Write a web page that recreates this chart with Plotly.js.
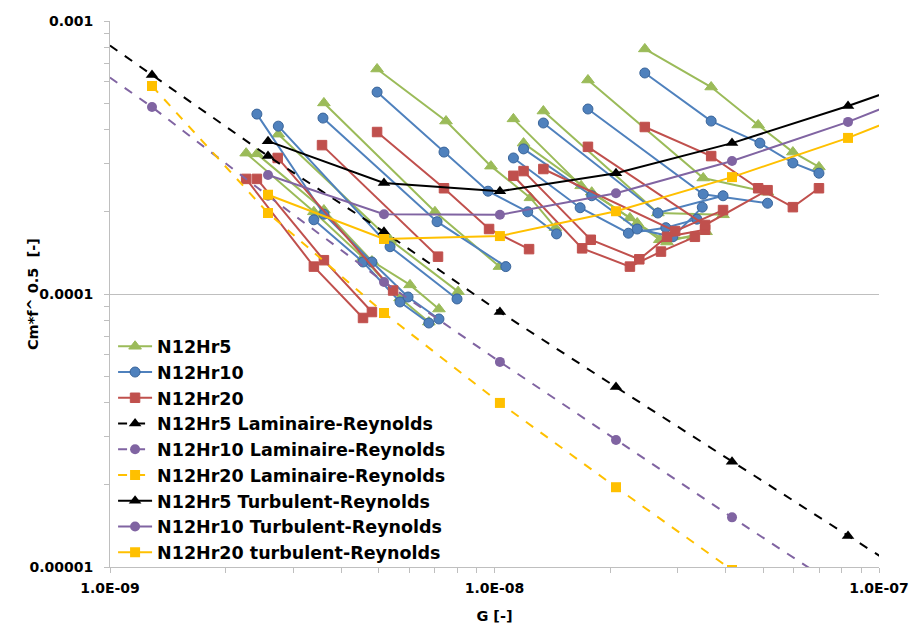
<!DOCTYPE html>
<html><head><meta charset="utf-8">
<script src="https://cdn.plot.ly/plotly-3.0.1.min.js"></script>
<style>html,body{margin:0;padding:0;background:#fff}#chart{width:911px;height:629px}</style>
</head><body><div id="chart"></div>
<script>
// ---- experimental series (runs separated by null) ----
const hr5_G = [2.26e-9,3.39e-9,4.55e-9,5.68e-9,6.75e-9,null,
  2.41e-9,3.60e-9,4.80e-9,6.03e-9,7.17e-9,null,
  2.74e-9,5.35e-9,8.04e-9,null,
  3.60e-9,7.00e-9,1.03e-8,null,
  4.95e-9,7.48e-9,9.79e-9,1.24e-8,1.44e-8,null,
  1.12e-8,1.68e-8,2.25e-8,2.69e-8,3.28e-8,null,
  1.19e-8,1.79e-8,2.35e-8,2.81e-8,3.55e-8,null,
  1.34e-8,2.66e-8,3.93e-8,null,
  1.75e-8,3.49e-8,5.13e-8,null,
  2.46e-8,3.66e-8,4.85e-8,5.97e-8,6.98e-8];
const hr5_Cm = [3.28e-4,2.00e-4,1.36e-4,9.67e-5,7.89e-5,null,
  3.26e-4,2.03e-4,1.32e-4,1.08e-4,8.81e-5,null,
  3.85e-4,1.58e-4,1.02e-4,null,
  5.01e-4,2.00e-4,1.26e-4,null,
  6.67e-4,4.30e-4,2.94e-4,2.25e-4,1.75e-4,null,
  4.38e-4,2.49e-4,1.90e-4,1.58e-4,1.62e-4,null,
  3.57e-4,2.36e-4,1.82e-4,1.55e-4,1.69e-4,null,
  4.68e-4,1.98e-4,1.95e-4,null,
  6.08e-4,2.66e-4,2.36e-4,null,
  7.90e-4,5.73e-4,4.16e-4,3.31e-4,2.92e-4];

const hr10_G = [3.39e-9,4.55e-9,5.68e-9,6.75e-9,null,
  2.41e-9,3.60e-9,4.80e-9,5.96e-9,7.17e-9,null,
  2.74e-9,5.35e-9,7.99e-9,null,
  3.58e-9,7.09e-9,1.07e-8,null,
  4.95e-9,7.39e-9,9.62e-9,1.22e-8,1.45e-8,null,
  1.12e-8,1.67e-8,2.23e-8,2.79e-8,3.36e-8,null,
  1.19e-8,1.79e-8,2.35e-8,2.91e-8,3.47e-8,null,
  1.34e-8,2.66e-8,3.93e-8,null,
  1.75e-8,3.49e-8,5.13e-8,null,
  2.46e-8,3.66e-8,4.90e-8,5.97e-8,6.98e-8];
const hr10_Cm = [1.87e-4,1.31e-4,9.35e-5,7.83e-5,null,
  4.56e-4,1.96e-4,1.31e-4,9.75e-5,8.10e-5,null,
  4.12e-4,1.49e-4,9.59e-5,null,
  4.41e-4,1.84e-4,1.26e-4,null,
  5.49e-4,3.31e-4,2.38e-4,2.00e-4,1.66e-4,null,
  3.15e-4,2.07e-4,1.67e-4,1.75e-4,1.88e-4,null,
  3.40e-4,2.29e-4,1.73e-4,1.62e-4,2.08e-4,null,
  4.23e-4,1.98e-4,2.29e-4,null,
  4.76e-4,2.32e-4,2.15e-4,null,
  6.45e-4,4.30e-4,3.57e-4,3.02e-4,2.77e-4];

const hr20_G = [2.26e-9,3.39e-9,4.55e-9,null,
  2.41e-9,3.60e-9,4.80e-9,null,
  2.73e-9,5.45e-9,null,
  3.56e-9,7.13e-9,null,
  4.95e-9,7.39e-9,9.68e-9,1.23e-8,null,
  1.12e-8,1.69e-8,2.25e-8,2.71e-8,3.32e-8,null,
  1.19e-8,1.78e-8,2.38e-8,2.81e-8,3.53e-8,null,
  1.34e-8,2.95e-8,3.93e-8,null,
  1.75e-8,3.53e-8,5.13e-8,null,
  2.46e-8,3.66e-8,4.85e-8,5.97e-8,6.98e-8];
const hr20_Cm = [2.64e-4,1.26e-4,8.17e-5,null,
  2.64e-4,1.33e-4,8.59e-5,null,
  3.15e-4,1.03e-4,null,
  3.51e-4,1.37e-4,null,
  3.92e-4,2.44e-4,1.73e-4,1.46e-4,null,
  2.71e-4,1.47e-4,1.26e-4,1.43e-4,1.62e-4,null,
  2.82e-4,1.58e-4,1.34e-4,1.62e-4,1.72e-4,null,
  2.87e-4,1.70e-4,2.03e-4,null,
  3.46e-4,1.79e-4,2.40e-4,null,
  4.09e-4,3.20e-4,2.44e-4,2.08e-4,2.44e-4];

// ---- correlations ----
const lamHr5_G  = [6.43e-10,1.286e-9,2.576e-9,5.159e-9,1.033e-8,2.070e-8,4.147e-8,8.307e-8,1.664e-7];
const lamHr5_Cm = [1.256e-3,6.34e-4,3.20e-4,1.69e-4,8.59e-5,4.56e-5,2.43e-5,1.30e-5,6.96e-6];
const lamHr10_G  = [6.43e-10,1.286e-9,2.576e-9,5.159e-9,1.033e-8,2.070e-8,4.147e-8,8.307e-8];
const lamHr10_Cm = [9.6e-4,4.84e-4,2.29e-4,1.107e-4,5.64e-5,2.92e-5,1.52e-5,8.0e-6];
const lamHr20_G  = [1.286e-9,2.576e-9,5.159e-9,1.033e-8,2.070e-8,4.147e-8];
const lamHr20_Cm = [5.78e-4,1.98e-4,8.52e-5,3.99e-5,1.96e-5,9.75e-6];

const turbHr5_G  = [2.576e-9,5.159e-9,1.033e-8,2.070e-8,4.147e-8,8.307e-8,1.664e-7];
const turbHr5_Cm = [3.63e-4,2.55e-4,2.38e-4,2.77e-4,3.57e-4,4.88e-4,6.90e-4];
const turbHr10_G  = [2.576e-9,5.159e-9,1.033e-8,2.070e-8,4.147e-8,8.307e-8,1.664e-7];
const turbHr10_Cm = [2.73e-4,1.96e-4,1.95e-4,2.34e-4,3.07e-4,4.27e-4,6.29e-4];
const turbHr20_G  = [2.576e-9,5.159e-9,1.033e-8,2.070e-8,4.147e-8,8.307e-8,1.664e-7];
const turbHr20_Cm = [2.31e-4,1.59e-4,1.63e-4,2.01e-4,2.68e-4,3.73e-4,5.50e-4];

const names = ['N12Hr5','N12Hr10','N12Hr20',
  'N12Hr5 Laminaire-Reynolds','N12Hr10 Laminaire-Reynolds','N12Hr20 Laminaire-Reynolds',
  'N12Hr5 Turbulent-Reynolds','N12Hr10 Turbulent-Reynolds','N12Hr20 turbulent-Reynolds'];
const xTickVals = [1e-9,1e-8,1e-7];
const xTickText = ['1.0E-09','1.0E-08','1.0E-07'];
const yTickVals = [1e-5,1e-4,1e-3];
const yTickText = ['0.00001','0.0001','0.001'];
const yTitle = 'Cm*f^ 0.5  [-]';
const xTitle = 'G [-]';

const GREEN='#9BBB59', BLUE='#4F81BD', RED='#C0504D', PURPLE='#8064A2', ORANGE='#FFC000';

function exp(x,y,name,color,sym,size,lc){
  return {x:x,y:y,name:name,type:'scatter',mode:'lines+markers',connectgaps:false,cliponaxis:true,
    line:{color:color,width:2},marker:{symbol:sym,size:size,color:color,line:{color:lc,width:1}}};
}
function corr(x,y,name,color,sym,dash,msize){
  return {x:x,y:y,name:name,type:'scatter',mode:'lines+markers',cliponaxis:true,
    line:{color:color,width:2,dash:dash},marker:{symbol:sym,size:msize,color:color}};
}
const traces = [
  exp(hr5_G,hr5_Cm,names[0],GREEN,'triangle-up',11,GREEN),
  exp(hr10_G,hr10_Cm,names[1],BLUE,'circle',10,'#3a659a'),
  exp(hr20_G,hr20_Cm,names[2],RED,'square',9.5,RED),
  corr(lamHr5_G,lamHr5_Cm,names[3],'#000000','triangle-up','dash',11),
  corr(lamHr10_G,lamHr10_Cm,names[4],PURPLE,'circle','dash',10),
  corr(lamHr20_G,lamHr20_Cm,names[5],ORANGE,'square','dash',10),
  corr(turbHr5_G,turbHr5_Cm,names[6],'#000000','triangle-up','solid',11),
  corr(turbHr10_G,turbHr10_Cm,names[7],PURPLE,'circle','solid',10),
  corr(turbHr20_G,turbHr20_Cm,names[8],ORANGE,'square','solid',10)
];
const FAM = 'DejaVu Sans, sans-serif';
const layout = {
  width:911, height:629, paper_bgcolor:'#fff', plot_bgcolor:'#fff',
  margin:{l:110,r:32,t:21,b:62},
  showlegend:true,
  legend:{x:0.004,y:0.437,xanchor:'left',yanchor:'top',bgcolor:'rgba(0,0,0,0)',
    font:{family:FAM,size:17.5,color:'#000',weight:'bold'},itemwidth:34,tracegroupgap:0},
  xaxis:{type:'log',range:[-9,-7],tickmode:'array',tickvals:xTickVals,ticktext:xTickText,
    ticks:'outside',ticklen:5,tickcolor:'#bfbfbf',showgrid:false,zeroline:false,
    showline:true,linecolor:'#bfbfbf',linewidth:1,ticklabelstandoff:3,
    minor:{dtick:'D1',ticks:'outside',ticklen:5,tickcolor:'#bfbfbf',showgrid:false},
    tickfont:{family:FAM,size:14,color:'#000',weight:'bold'},
    title:{text:xTitle,font:{family:FAM,size:14.5,color:'#000',weight:'bold'},standoff:16}},
  yaxis:{type:'log',range:[-5,-3],tickmode:'array',tickvals:yTickVals,ticktext:yTickText,
    ticks:'outside',ticklen:5,tickcolor:'#bfbfbf',showgrid:true,gridcolor:'#bfbfbf',gridwidth:1,zeroline:false,
    showline:true,linecolor:'#bfbfbf',linewidth:1,ticklabelstandoff:8,
    minor:{dtick:'D1',ticks:'outside',ticklen:5,tickcolor:'#bfbfbf',showgrid:false},
    tickfont:{family:FAM,size:14,color:'#000',weight:'bold'}},
  annotations:[{text:yTitle,xref:'paper',yref:'paper',x:-0.1,y:0.5,xanchor:'center',yanchor:'middle',
    textangle:-90,showarrow:false,font:{family:FAM,size:14.5,color:'#000',weight:'bold'}}]
};
Plotly.newPlot('chart',traces,layout,{displayModeBar:false,staticPlot:true});
</script></body></html>
